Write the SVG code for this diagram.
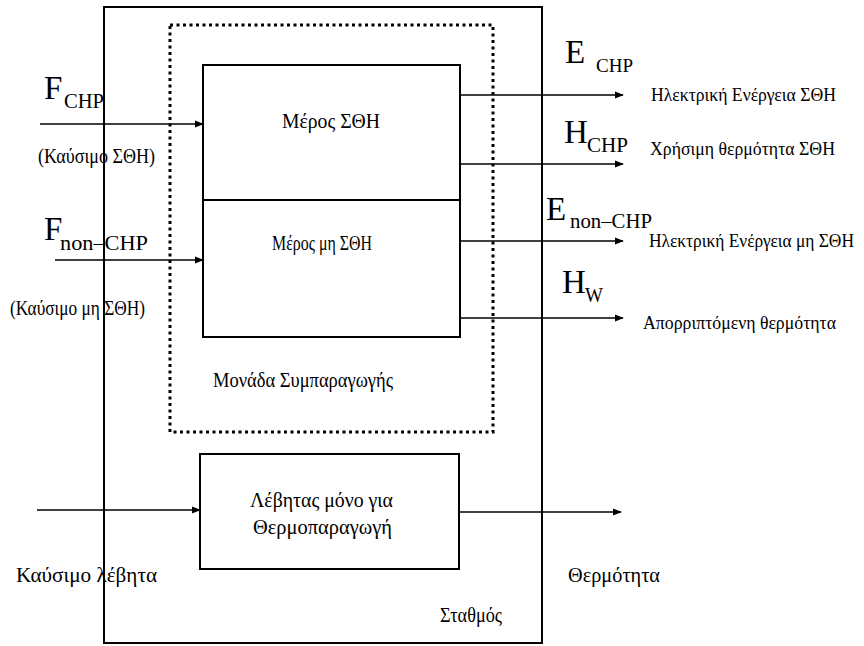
<svg xmlns="http://www.w3.org/2000/svg" width="864" height="646" viewBox="0 0 864 646">
<defs>
<marker id="ah" viewBox="0 0 10 10" refX="9" refY="5" markerWidth="9" markerHeight="9" markerUnits="userSpaceOnUse" orient="auto">
<path d="M0,1 L10,5 L0,9 Z" fill="#000"/>
</marker>
<style>
.box{fill:none;stroke:#000;stroke-width:2}
.dot{fill:none;stroke:#000;stroke-width:3;stroke-dasharray:3 3.5}
.arr{fill:none;stroke:#000;stroke-width:1.5;marker-end:url(#ah)}
text{font-family:"Liberation Serif","Times New Roman",Times,serif;fill:#000}
</style>
</defs>
<rect width="864" height="646" fill="#fff"/>
<g id="station">
<rect class="box" x="104" y="7" width="438" height="636"/>
<text font-size="20" x="440" y="622" textLength="62" lengthAdjust="spacingAndGlyphs">Σταθμός</text>
</g>
<g id="cogen-unit">
<rect class="dot" x="170" y="25" width="323" height="407"/>
<text font-size="20" x="213" y="387" textLength="180" lengthAdjust="spacingAndGlyphs">Μονάδα Συμπαραγωγής</text>
</g>
<g id="chp-part">
<rect class="box" x="203" y="65" width="257" height="135"/>
<text font-size="20" x="282" y="128" textLength="98" lengthAdjust="spacingAndGlyphs">Μέρος ΣΘΗ</text>
</g>
<g id="non-chp-part">
<rect class="box" x="203" y="200" width="257" height="137"/>
<text font-size="20" x="272" y="250" textLength="100" lengthAdjust="spacingAndGlyphs">Μέρος μη ΣΘΗ</text>
</g>
<g id="boiler">
<rect class="box" x="200" y="454" width="259" height="115"/>
<text font-size="20" x="250" y="507" textLength="143" lengthAdjust="spacingAndGlyphs">Λέβητας μόνο για</text>
<text font-size="20" x="253" y="534" textLength="139" lengthAdjust="spacingAndGlyphs">Θερμοπαραγωγή</text>
</g>
<g id="connectors">
<line class="arr" x1="40" y1="124" x2="203" y2="124"/>
<line class="arr" x1="55" y1="260" x2="203" y2="260"/>
<line class="arr" x1="460" y1="95" x2="623" y2="95"/>
<line class="arr" x1="460" y1="164" x2="623" y2="164"/>
<line class="arr" x1="460" y1="241" x2="623" y2="241"/>
<line class="arr" x1="460" y1="318" x2="623" y2="318"/>
<line class="arr" x1="37" y1="510" x2="200" y2="510"/>
<line class="arr" x1="459" y1="512" x2="621" y2="512"/>
</g>
<g id="labels">
<text font-size="33" x="44" y="99">F</text>
<text font-size="20" x="64" y="108" textLength="40" lengthAdjust="spacingAndGlyphs">CHP</text>
<text font-size="20" x="38" y="163" textLength="117" lengthAdjust="spacingAndGlyphs">(Καύσιμο ΣΘΗ)</text>
<text font-size="33" x="44" y="240">F</text>
<text font-size="20" x="60" y="250" textLength="88" lengthAdjust="spacingAndGlyphs">non–CHP</text>
<text font-size="20" x="10" y="315" textLength="135" lengthAdjust="spacingAndGlyphs">(Καύσιμο μη ΣΘΗ)</text>
<text font-size="20" x="16" y="582" textLength="141" lengthAdjust="spacingAndGlyphs">Καύσιμο λέβητα</text>
<text font-size="33" x="565" y="63">E</text>
<text font-size="18" x="596" y="72" textLength="37" lengthAdjust="spacingAndGlyphs">CHP</text>
<text font-size="19" x="651" y="101" textLength="185" lengthAdjust="spacingAndGlyphs">Ηλεκτρική Ενέργεια ΣΘΗ</text>
<text font-size="33" x="564" y="143">H</text>
<text font-size="20" x="587" y="152" textLength="41" lengthAdjust="spacingAndGlyphs">CHP</text>
<text font-size="19" x="650" y="155" textLength="185" lengthAdjust="spacingAndGlyphs">Χρήσιμη θερμότητα ΣΘΗ</text>
<text font-size="33" x="546" y="220">E</text>
<text font-size="20" x="570" y="228" textLength="82" lengthAdjust="spacingAndGlyphs">non–CHP</text>
<text font-size="18" x="649" y="247" textLength="205" lengthAdjust="spacingAndGlyphs">Ηλεκτρική Ενέργεια μη  ΣΘΗ</text>
<text font-size="33" x="562" y="293">H</text>
<text font-size="20" x="585" y="302" textLength="18" lengthAdjust="spacingAndGlyphs">W</text>
<text font-size="19" x="643" y="329" textLength="193" lengthAdjust="spacingAndGlyphs">Απορριπτόμενη θερμότητα</text>
<text font-size="20" x="568" y="582" textLength="92" lengthAdjust="spacingAndGlyphs">Θερμότητα</text>
</g>
</svg>
